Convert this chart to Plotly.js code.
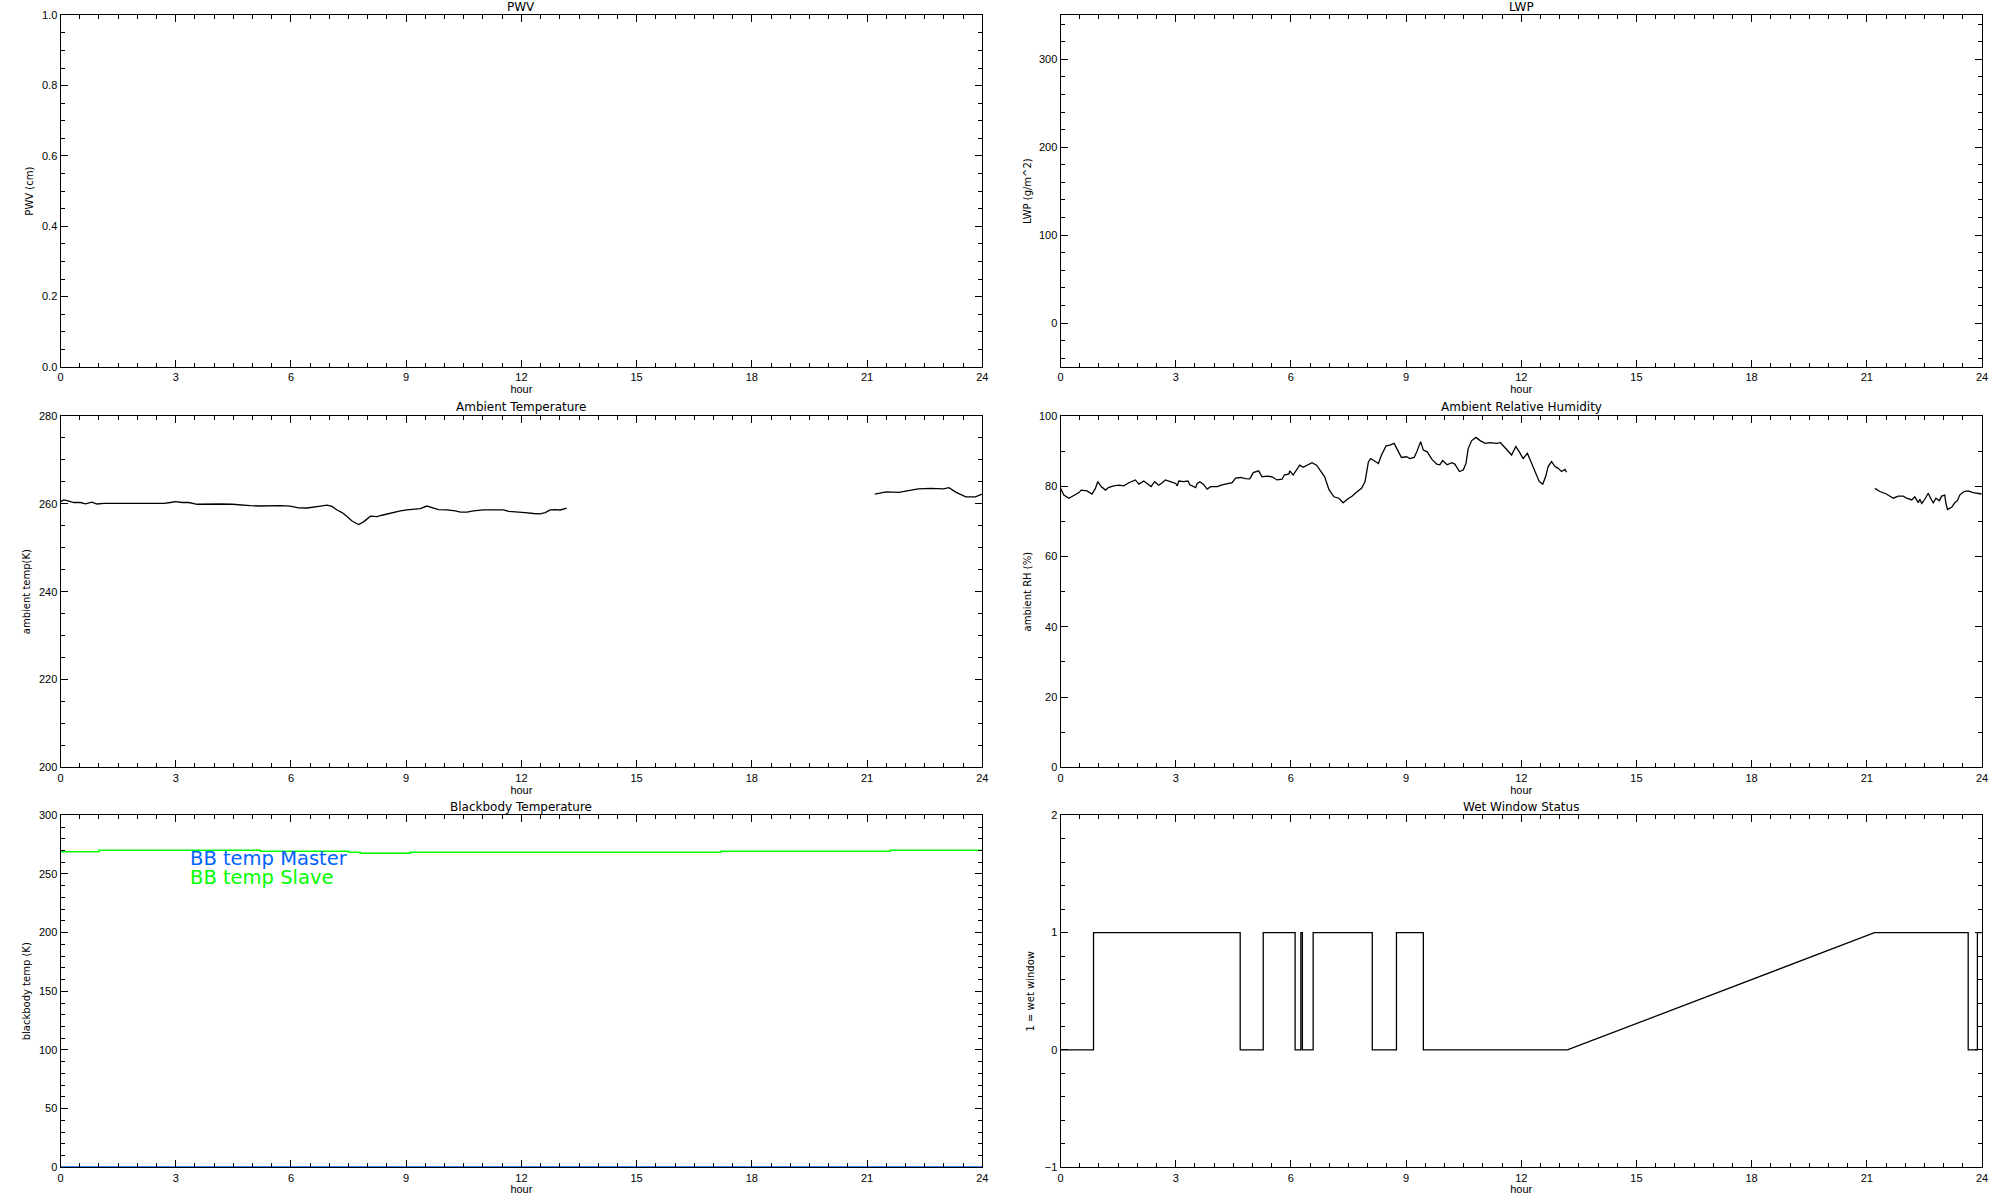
<!DOCTYPE html>
<html>
<head>
<meta charset="utf-8">
<script src="https://cdn.plot.ly/plotly-3.0.1.min.js"></script>
<style>html,body{margin:0;padding:0;background:#fff;}#chart{width:2000px;height:1200px;}</style>
</head>
<body>
<div id="chart"></div>
<script>
// ---------------- data ----------------
const pwvTime = [];
const pwvVal = [];
const lwpTime = [];
const lwpVal = [];

const ambTime = [0,0.09,0.22,0.35,0.52,0.65,0.82,0.95,1.13,1.3,1.47,1.65,1.82,2.0,2.17,2.34,2.52,2.69,2.86,2.99,3.17,3.34,3.56,3.82,4.16,4.47,4.68,4.94,5.2,5.46,5.72,5.98,6.2,6.42,6.59,6.77,6.94,7.07,7.2,7.33,7.46,7.59,7.76,7.89,8.07,8.24,8.37,8.54,8.67,8.85,9.02,9.19,9.37,9.54,9.67,9.84,10.06,10.28,10.41,10.58,10.75,11.01,11.28,11.53,11.67,11.88,12.1,12.32,12.49,12.62,12.75,12.88,13.01,13.18,
  null,
  21.2,21.5,21.83,22.16,22.33,22.66,22.99,23.13,23.32,23.57,23.82,23.99];
const ambTemp = [260.5,260.9,260.6,260.3,260.3,260.0,260.4,259.96,260.1,260.1,259.96,259.96,259.96,260.1,259.96,260.1,259.96,260.1,260.3,260.5,260.3,260.3,259.9,259.96,259.96,259.9,259.7,259.6,259.5,259.6,259.6,259.5,259.1,259.05,259.2,259.5,259.7,259.4,258.6,258.0,257.1,256.1,255.3,255.9,257.2,257.1,257.4,257.8,258.1,258.4,258.6,258.7,258.9,259.5,259.2,258.7,258.6,258.4,258.1,258.1,258.4,258.6,258.6,258.6,258.3,258.2,258.0,257.8,257.7,258.0,258.6,258.7,258.6,259.0,
  null,
  262.2,262.7,262.6,263.1,263.4,263.5,263.4,263.7,262.6,261.6,261.6,262.2];

const rhTime = [0,0.087,0.22,0.35,0.48,0.54,0.69,0.82,0.91,0.97,1.06,1.17,1.26,1.39,1.52,1.65,1.78,1.95,2.04,2.17,2.26,2.36,2.45,2.56,2.65,2.73,2.86,3.0,3.04,3.08,3.21,3.32,3.37,3.52,3.56,3.63,3.72,3.82,3.91,4.08,4.21,4.34,4.47,4.56,4.69,4.82,4.93,5.02,5.16,5.25,5.38,5.51,5.64,5.77,5.83,5.95,5.97,6.06,6.15,6.23,6.32,6.42,6.55,6.67,6.79,6.88,6.99,7.12,7.25,7.36,7.47,7.6,7.73,7.84,7.93,8.02,8.08,8.19,8.28,8.36,8.48,8.58,8.69,8.77,8.88,9.01,9.1,9.21,9.28,9.38,9.45,9.55,9.67,9.8,9.88,9.95,10.07,10.19,10.27,10.39,10.49,10.56,10.62,10.71,10.82,10.93,11.06,11.19,11.36,11.46,11.55,11.64,11.75,11.79,11.86,11.95,12.05,12.16,12.27,12.38,12.47,12.56,12.64,12.7,12.79,12.88,12.96,13.05,13.14,13.18,
  null,
  21.21,21.34,21.51,21.69,21.82,21.95,22.04,22.17,22.25,22.34,22.38,22.43,22.51,22.6,22.66,22.73,22.8,22.89,22.95,23.03,23.06,23.1,23.21,23.29,23.36,23.42,23.53,23.64,23.77,23.9,23.99];
const rhVal = [79.4,77.5,76.6,77.5,78.2,78.9,78.7,77.8,79.4,81.3,79.9,78.9,79.7,80.1,80.3,80.1,81.0,81.8,80.6,81.5,80.8,79.9,81.3,80.3,81.0,81.8,81.3,80.8,80.1,81.5,81.3,81.5,80.4,79.6,80.8,81.3,80.6,79.2,79.9,79.9,80.4,80.6,81.0,82.3,82.5,82.2,82.1,83.9,84.4,82.7,82.9,82.7,81.8,82.0,83.2,83.5,84.4,83.2,84.8,86.0,85.4,86.0,86.7,86.0,84.2,82.7,79.1,77.0,76.6,75.3,76.3,77.2,78.5,79.4,81.3,87.0,87.9,87.0,86.5,88.9,91.5,91.7,92.2,90.5,88.2,88.4,87.9,88.2,89.8,92.7,90.3,89.8,87.7,86.3,86.1,87.3,86.1,86.7,86.3,84.2,84.6,86.5,90.8,93.0,93.9,93.0,92.2,92.4,92.2,92.4,91.3,90.1,88.9,89.8,91.3,89.8,87.9,89.4,86.5,83.7,81.3,80.6,82.9,85.6,87.0,85.6,85.1,84.2,84.8,84.0,
  null,
  79.4,78.5,77.8,76.6,77.2,77.2,76.6,76.1,77.0,75.3,76.3,75.1,76.3,78.0,76.6,75.3,76.6,75.9,77.2,77.5,75.1,73.4,74.0,75.3,75.9,77.5,78.5,78.7,78.2,78.0,77.8];

const bbMasterTime = [0, 24];
const bbMaster = [0, 0];
const bbSlaveTime = [0, 1.0, 5.2, 7.5, 7.8, 9.1, 17.2, 21.6, 24];
const bbSlave = [269.0, 270.2, 269.3, 268.5, 267.6, 268.5, 269.3, 270.2, 270.2];

const wetTime = [0,0.86,0.86,4.68,4.68,5.28,5.28,6.11,6.11,6.26,6.26,6.30,6.30,6.58,6.58,8.12,8.12,8.75,8.75,9.45,9.45,13.2,21.2,23.64,23.64,23.88,23.88,24];
const wetFlag = [0,0,1,1,0,0,1,1,0,0,1,1,0,0,1,1,0,0,1,1,0,0,1,1,0,0,1,1];

const panelTitles = ["PWV","LWP","Ambient Temperature","Ambient Relative Humidity","Blackbody Temperature","Wet Window Status"];
const yTitles = ["PWV (cm)","LWP (g/m^2)","ambient temp(K)","ambient RH (%)","blackbody temp (K)","1 = wet window"];
const legendLabels = ["BB temp Master","BB temp Slave"];

// ---------------- layout helpers ----------------
const TICKFONT = {family:"Liberation Sans, Arial, sans-serif", size:11, color:"#000"};
const colDomains = [[0.03025,0.49115],[0.53025,0.991]];
const rowDomains = [[0.6942,0.98725],[0.36058,0.65333],[0.02725,0.32058]];

function xAxis(i){
  const col = (i-1)%2;
  return {
    domain: colDomains[col], anchor: 'y'+(i===1?'':i),
    range:[0,24], tick0:0, dtick:3, autorange:false,
    showline:true, mirror:'allticks', linecolor:'#000', linewidth:1,
    ticks:'inside', ticklen:7, tickwidth:1, tickcolor:'#000',
    minor:{ticks:'inside', ticklen:4, tickwidth:1, tickcolor:'#000', dtick:0.5, tick0:0, showgrid:false},
    showgrid:false, zeroline:false, tickfont:TICKFONT,
    title:{text:'hour', font:{family:"Liberation Sans, Arial, sans-serif", size:11, color:'#000'}, standoff:0}
  };
}
function yAxis(i, range, dtick, minorD, fmt, standoff){
  const row = Math.floor((i-1)/2);
  const ax = {
    domain: rowDomains[row], anchor: 'x'+(i===1?'':i),
    range:range, tick0:0, dtick:dtick, autorange:false,
    showline:true, mirror:'allticks', linecolor:'#000', linewidth:1,
    ticks:'inside', ticklen:7, tickwidth:1, tickcolor:'#000',
    minor:{ticks:'inside', ticklen:4, tickwidth:1, tickcolor:'#000', dtick:minorD, tick0:0, showgrid:false},
    showgrid:false, zeroline:false, tickfont:TICKFONT,
    title:{text:yTitles[i-1], font:{family:"DejaVu Sans, sans-serif", size:10, color:'#000'}, standoff:standoff}
  };
  if(fmt) ax.tickformat = fmt;
  return ax;
}

const traces = [
  {x:pwvTime, y:pwvVal, xaxis:'x', yaxis:'y', mode:'lines', line:{color:'#000', width:1}, showlegend:false},
  {x:lwpTime, y:lwpVal, xaxis:'x2', yaxis:'y2', mode:'lines', line:{color:'#000', width:1}, showlegend:false},
  {x:ambTime, y:ambTemp, xaxis:'x3', yaxis:'y3', mode:'lines', line:{color:'#000', width:1.3}, connectgaps:false, showlegend:false},
  {x:rhTime, y:rhVal, xaxis:'x4', yaxis:'y4', mode:'lines', line:{color:'#000', width:1.3}, connectgaps:false, showlegend:false},
  {x:bbMasterTime, y:bbMaster, xaxis:'x5', yaxis:'y5', mode:'lines', line:{color:'rgb(0,100,255)', width:2}, showlegend:false, cliponaxis:false},
  {x:bbSlaveTime, y:bbSlave, xaxis:'x5', yaxis:'y5', mode:'lines', line:{color:'rgb(0,255,0)', width:1.5, shape:'hv'}, showlegend:false},
  {x:wetTime, y:wetFlag, xaxis:'x6', yaxis:'y6', mode:'lines', line:{color:'#000', width:1.3}, showlegend:false}
];

const titleY = [0.99417, 0.99417, 0.66083, 0.66083, 0.3275, 0.3275];
const annotations = panelTitles.map((t,k)=>({
  text:t, xref:'paper', yref:'paper',
  x:(colDomains[k%2][0]+colDomains[k%2][1])/2, y:titleY[k],
  xanchor:'center', yanchor:'middle', showarrow:false,
  font:{family:"DejaVu Sans, sans-serif", size:12, color:'#000'}
}));
annotations.push({text:legendLabels[0], xref:'x5', yref:'y5', x:3.32, y:262.8, xanchor:'left', yanchor:'middle', showarrow:false,
  font:{family:"DejaVu Sans, sans-serif", size:19.5, color:'rgb(0,100,255)'}});
annotations.push({text:legendLabels[1], xref:'x5', yref:'y5', x:3.32, y:246.6, xanchor:'left', yanchor:'middle', showarrow:false,
  font:{family:"DejaVu Sans, sans-serif", size:19.5, color:'rgb(0,255,0)'}});

const layout = {
  width:2000, height:1200,
  margin:{l:0, r:0, t:0, b:0},
  paper_bgcolor:'#fff', plot_bgcolor:'#fff',
  showlegend:false,
  font:{family:"Liberation Sans, Arial, sans-serif", color:'#000'},
  annotations: annotations,
  xaxis: xAxis(1), xaxis2: xAxis(2), xaxis3: xAxis(3), xaxis4: xAxis(4), xaxis5: xAxis(5), xaxis6: xAxis(6),
  yaxis:  yAxis(1, [0,1], 0.2, 0.05, '.1f', 6),
  yaxis2: yAxis(2, [-50,350], 100, 20, null, 5),
  yaxis3: yAxis(3, [200,280], 20, 5, null, 6),
  yaxis4: yAxis(4, [0,100], 20, 10, null, 5),
  yaxis5: yAxis(5, [0,300], 50, 10, null, 6),
  yaxis6: yAxis(6, [-1,2], 1, 0.2, null, 8)
};

Plotly.newPlot('chart', traces, layout, {staticPlot:true, displayModeBar:false});
</script>
</body>
</html>
